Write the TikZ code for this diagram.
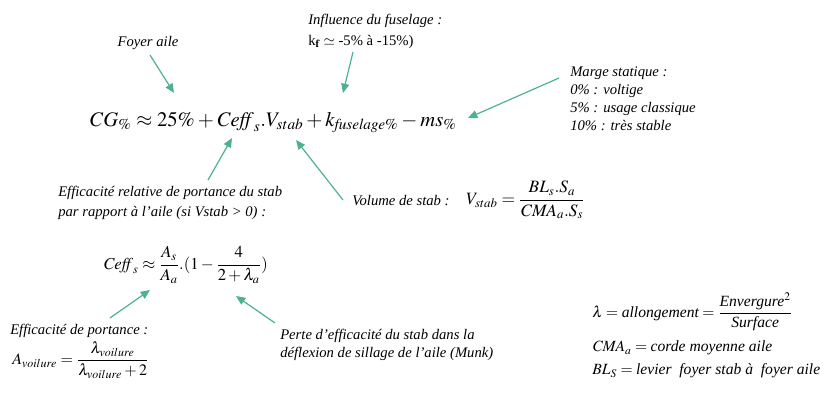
\documentclass[tikz,border=0pt]{standalone}
\usepackage{amsmath}
\usepackage{mathptmx}
\usepackage{fontspec}
\setmainfont{Liberation Serif}
\usetikzlibrary{arrows.meta}
\definecolor{arr}{HTML}{4DB38F}
\tikzset{
  lbl/.style={font=\fontsize{11}{15}\selectfont\itshape, inner sep=0pt, align=left},
  eq/.style={inner sep=0pt},
  conn/.style={draw=arr, line width=0.9pt, -{Triangle[length=7pt,width=6pt]}}
}
\begin{document}
\begin{tikzpicture}[x=0.75pt,y=-0.75pt]
\useasboundingbox (0,0) rectangle (833,404);
% labels
\node[lbl, anchor=base] (foyer) at (148,46) {Foyer aile};
\node[lbl, anchor=base west] (infl) at (308,24) {Influence du fuselage :};
\node[inner sep=0pt, anchor=base west, font=\fontsize{11}{15}\selectfont] (kf) at (308,45) {k$_{\mathbf f}$ $\simeq$ -5\% à -15\%)};
\node[lbl, anchor=base west] (marge) at (570,130) {Marge statique :\\[-1.5pt]0\% : voltige\\[-1.5pt]5\% : usage classique\\[-1.5pt]10\% : très stable};
% main equation
\node[eq, anchor=base west, font=\fontsize{15.5}{19}\selectfont] (main) at (90,126)
  {$CG_{\%} \approx 25\% + \mathit{Ceff}_s.V_{stab} + k_{\mathit{fuselage}\%} - ms_{\%}$};
\node[lbl, anchor=base west] (effrel) at (58,216) {Efficacité relative de portance du stab\\par rapport à l'aile (si Vstab > 0) :};
\node[eq, anchor=west, font=\fontsize{12.5}{15}\selectfont] (ceff) at (103,265)
  {$\mathit{Ceff}_s \approx \dfrac{A_s}{A_a}.(1-\dfrac{4}{2+\lambda_a})$};
\node[lbl, anchor=base west] (vol) at (352,205) {Volume de stab :};
\node[eq, anchor=west, font=\fontsize{13}{16}\selectfont] (vstab) at (466,200)
  {$V_{stab} = \dfrac{BL_s.S_a}{\mathit{CMA}_a.S_s}$};
\node[lbl, anchor=base west] (effport) at (10,334) {Efficacité de portance :};
\node[eq, anchor=west, font=\fontsize{12}{15}\selectfont] (avoil) at (12,360)
  {$A_{voilure} = \dfrac{\lambda_{voilure}}{\lambda_{voilure}+2}$};
\node[lbl, anchor=base west] (perte) at (280,357) {Perte d'efficacité du stab dans la\\[-1.5pt]déflexion de sillage de l'aile (Munk)};
\node[eq, anchor=west, font=\fontsize{11.7}{15}\selectfont] (lam) at (592,312)
  {$\lambda = \textit{allongement} = \dfrac{\textit{Envergure}^2}{\textit{Surface}}$};
\node[eq, anchor=west, font=\fontsize{11.7}{15}\selectfont] (cma) at (592,348)
  {$\mathit{CMA}_a = \textit{corde moyenne aile}$};
\node[eq, anchor=west, font=\fontsize{11.7}{15}\selectfont] (bl) at (592,371)
  {$\mathit{BL}_S = \textit{levier\ \ foyer stab à\ \ foyer aile}$};
% arrow anchor points
\coordinate (a1s) at (150,55);  \coordinate (a1e) at (174,93);
\coordinate (a2s) at (353,52);  \coordinate (a2e) at (343,93);
\coordinate (a3s) at (559,78);  \coordinate (a3e) at (468,118);
\coordinate (a4s) at (208,180); \coordinate (a4e) at (232,138);
\coordinate (a5s) at (343,200); \coordinate (a5e) at (296,140);
\coordinate (a6s) at (110,318); \coordinate (a6e) at (150,290);
\coordinate (a7s) at (275,323); \coordinate (a7e) at (236,296);
\draw[conn] (a1s) -- (a1e);
\draw[conn] (a2s) -- (a2e);
\draw[conn] (a3s) -- (a3e);
\draw[conn] (a4s) -- (a4e);
\draw[conn] (a5s) -- (a5e);
\draw[conn] (a6s) -- (a6e);
\draw[conn] (a7s) -- (a7e);
\end{tikzpicture}
\end{document}
